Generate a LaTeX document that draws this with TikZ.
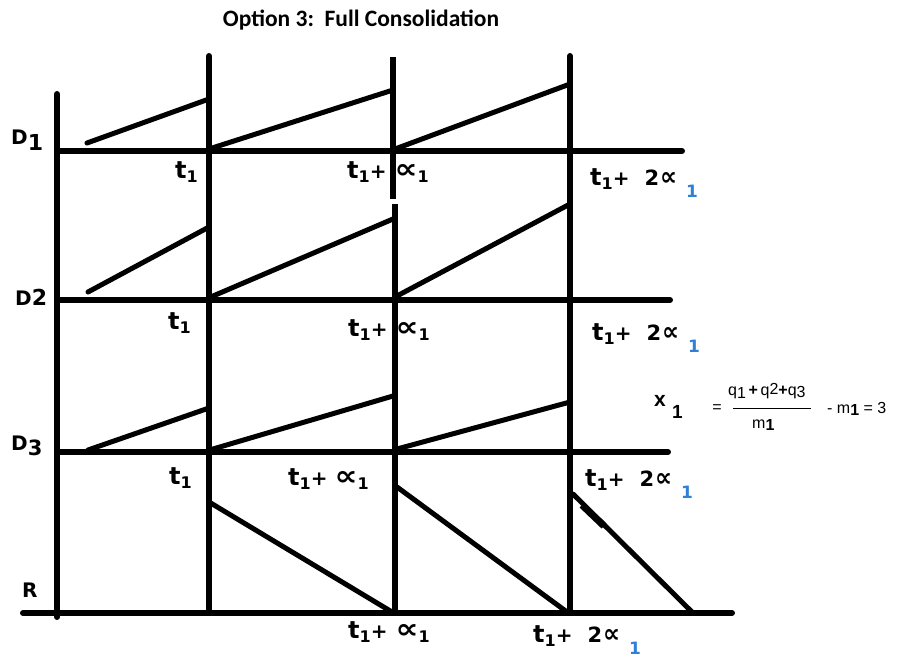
\documentclass[tikz,border=0pt]{standalone}
\usepackage{graphicx}
\usepackage{fontspec}
\setmainfont{DejaVu Sans}
\newfontfamily\titlefont{Carlito}
\newfontfamily\formfont{Liberation Sans}
\definecolor{subblue}{rgb}{0.18,0.5,0.85}
\newcommand{\tee}{{\fontsize{24}{24}\selectfont t}}
\newcommand{\pls}{{\fontsize{20}{20}\selectfont +}}
\newcommand{\sbo}{\raisebox{-0.4ex}{\fontsize{16}{16}\selectfont 1}}
\newcommand{\sbl}{\raisebox{-1.15ex}{\fontsize{17}{17}\selectfont\color{subblue}1}}
\newcommand{\prp}{\resizebox{23pt}{14pt}{\bfseries ∝}}
\newcommand{\prs}{\resizebox{17pt}{13pt}{\bfseries ∝}}
\newcommand{\twoa}{{\fontsize{21}{21}\selectfont 2}}
\begin{document}
\begin{tikzpicture}[x=1pt,y=-1pt,
  grid/.style={line width=6pt,line cap=round},
  slant/.style={line width=5pt,line cap=round},
  lbl/.style={anchor=west,inner sep=0pt,font=\bfseries\fontsize{20}{20}\selectfont},
  dlbl/.style={anchor=west,inner sep=0pt,font=\bfseries\fontsize{20}{20}\selectfont},
  frm/.style={inner sep=0pt,font=\formfont\fontsize{16}{16}\selectfont}]
\useasboundingbox (0,0) rectangle (897,659);
% title
\node[inner sep=0pt,font=\titlefont\bfseries\fontsize{23.5}{23.5}\selectfont] (title) at (361,20) {Option 3:\ \ Full Consolidation};
% grid coordinates
\coordinate (v0t) at (57,94);  \coordinate (v0b) at (57,617);
\coordinate (v1t) at (209,56); \coordinate (v1b) at (209,613);
\coordinate (v2t) at (393,57); \coordinate (v2m) at (393,199);
\coordinate (v2n) at (395,204); \coordinate (v2b) at (395,613);
\coordinate (v3t) at (570,56); \coordinate (v3b) at (570,613);
\coordinate (h1l) at (57,151); \coordinate (h1r) at (682,151);
\coordinate (h2l) at (57,300); \coordinate (h2r) at (670,300);
\coordinate (h3l) at (57,452); \coordinate (h3r) at (668,452);
\coordinate (hRl) at (23,613); \coordinate (hRr) at (732,613);
\draw[grid] (v0t) -- (v0b);
\draw[grid] (v1t) -- (v1b);
\draw[grid,line cap=butt] (v2t) -- (v2m);
\draw[grid,line cap=butt] (v2n) -- (v2b);
\draw[grid] (v3t) -- (v3b);
\draw[grid] (h1l) -- (h1r);
\draw[grid] (h2l) -- (h2r);
\draw[grid] (h3l) -- (h3r);
\draw[grid] (hRl) -- (hRr);
% slanted lines
\coordinate (a1s) at (87,143);  \coordinate (a1e) at (209,99);
\coordinate (a2s) at (209,149); \coordinate (a2e) at (393,90);
\coordinate (a3s) at (395,149); \coordinate (a3e) at (570,84);
\coordinate (b1s) at (88,292);  \coordinate (b1e) at (209,227);
\coordinate (b2s) at (213,296); \coordinate (b2e) at (393,219);
\coordinate (b3s) at (395,297); \coordinate (b3e) at (570,204);
\coordinate (c1s) at (88,450);  \coordinate (c1e) at (209,408);
\coordinate (c2s) at (213,449); \coordinate (c2e) at (393,396);
\coordinate (c3s) at (397,449); \coordinate (c3e) at (570,402);
\coordinate (r1s) at (209,502); \coordinate (r1e) at (392,612);
\coordinate (r2s) at (397,487); \coordinate (r2e) at (567,612);
\coordinate (r3s) at (573,494); \coordinate (r3e) at (692,612);
\foreach \p in {a1,a2,a3,b1,b2,b3,c1,c2,c3,r1,r2,r3}
  \draw[slant] (\p s) -- (\p e);
\draw[line width=7pt] (582,505) -- (604,526);
% axis labels
\node[dlbl] (D1) at (11,140) {D\raisebox{-0.6ex}{\fontsize{22}{22}\selectfont 1}};
\node[dlbl] (D2) at (15,297) {D{\fontsize{22}{22}\selectfont 2}};
\node[dlbl] (D3) at (11,446) {D\raisebox{-0.45ex}{\fontsize{21}{21}\selectfont 3}};
\node[dlbl] (R) at (22,590) {R};
% time labels
\node[lbl] (t11) at (175,172) {\tee\sbo};
\node[lbl] (t12) at (347,172) {\tee\sbo\pls\hspace{0.4em}\prp\sbo};
\node[lbl] (t13) at (590,183) {\tee\sbo\pls\hspace{0.75em}\twoa\hspace{0.05em}\prs\hspace{0.45em}\sbl};
\node[lbl] (t21) at (168,323) {\tee\sbo};
\node[lbl] (t22) at (348,330) {\tee\sbo\pls\hspace{0.4em}\prp\sbo};
\node[lbl] (t23) at (592,338) {\tee\sbo\pls\hspace{0.75em}\twoa\hspace{0.05em}\prs\hspace{0.45em}\sbl};
\node[lbl] (t31) at (169,478) {\tee\sbo};
\node[lbl] (t32) at (288,479) {\tee\sbo\pls\hspace{0.35em}\prp\sbo};
\node[lbl] (t33) at (585,484) {\tee\sbo\pls\hspace{0.75em}\twoa\hspace{0.05em}\prs\hspace{0.45em}\sbl};
\node[lbl] (tR2) at (348,632) {\tee\sbo\pls\hspace{0.4em}\prp\sbo};
\node[lbl] (tR3) at (533,640) {\tee\sbo\pls\hspace{0.75em}\twoa\hspace{0.05em}\prs\hspace{0.45em}\sbl};
% formula
\node[frm,anchor=west,font=\formfont\bfseries\fontsize{21}{21}\selectfont] (fx) at (654,407) {x\raisebox{-1.1ex}{\hspace{0.3em}\fontsize{19}{19}\selectfont 1}};
\node[frm] (feq) at (717,409) {=};
\node[frm,anchor=west] (fnum) at (728,391) {q\raisebox{-0.35ex}{1}\,\textbf{+}\,q\raisebox{0.1ex}{2}\textbf{+}q\raisebox{-0.2ex}{3}};
\draw[line width=0.7pt] (733,408) -- (811,408);
\node[frm,anchor=west] (fden) at (752,425) {m\raisebox{-0.3ex}{\bfseries 1}};
\node[frm,anchor=west] (frest) at (827,409) {- m\raisebox{-0.3ex}{\bfseries 1} = 3};
\end{tikzpicture}
\end{document}
